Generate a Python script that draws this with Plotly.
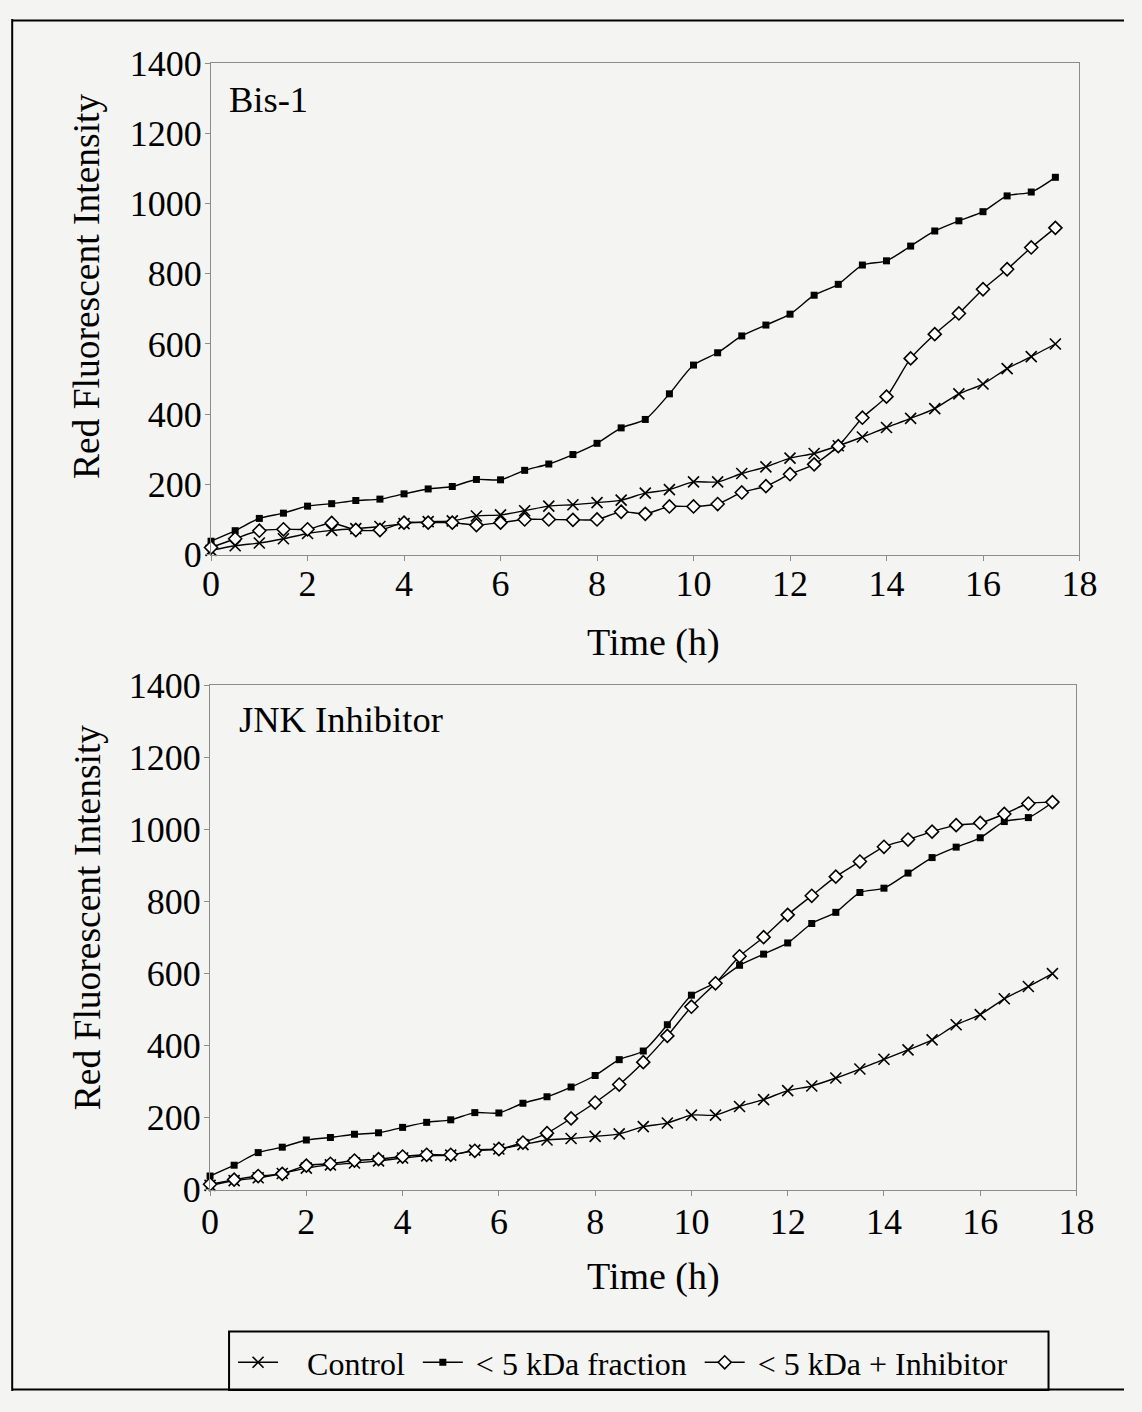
import plotly.graph_objects as go

# Sampling times (h)
time_h = [0, 0.5, 1, 1.5, 2, 2.5, 3, 3.5, 4, 4.5, 5, 5.5, 6, 6.5, 7, 7.5, 8, 8.5,
          9, 9.5, 10, 10.5, 11, 11.5, 12, 12.5, 13, 13.5, 14, 14.5, 15, 15.5, 16, 16.5, 17, 17.5]

# Red fluorescent intensity per condition
control = [12, 25, 33, 45, 60, 69, 74, 80, 88, 94, 96, 110, 113, 125, 138, 142, 148, 155,
           175, 185, 207, 207, 231, 250, 275, 288, 310, 335, 362, 388, 416, 458, 486, 530, 564, 600]
fraction_5kda = [38, 68, 103, 118, 138, 145, 154, 158, 173, 187, 194, 214, 213, 240, 258, 285, 317, 361,
                 385, 458, 540, 575, 623, 654, 685, 739, 770, 825, 837, 879, 922, 951, 977, 1022, 1033, 1075]
bis1_inhibited = [20, 45, 68, 72, 72, 90, 70, 70, 91, 91, 91, 84, 91, 100, 100, 99, 100, 122,
                  116, 137, 137, 144, 177, 195, 229, 257, 309, 390, 450, 559, 628, 687, 756, 813, 875, 931]
jnk_inhibited = [15, 28, 38, 44, 67, 72, 81, 85, 92, 97, 97, 108, 113, 131, 157, 198, 242, 292,
                 354, 427, 508, 573, 648, 701, 763, 816, 869, 911, 952, 972, 994, 1012, 1018, 1043, 1072, 1076]

series_names = ["Control", "< 5 kDa fraction", "< 5 kDa + Inhibitor"]
panel_labels = ["Bis-1", "JNK Inhibitor"]
x_ticks = [0, 2, 4, 6, 8, 10, 12, 14, 16, 18]
y_ticks = [0, 200, 400, 600, 800, 1000, 1200, 1400]

FONT = "Liberation Serif"
BG = "#f4f4f2"
AXIS_GREY = "#8c8c8c"
NB = "\u00a0"

W, H = 1142, 1412
# page placement of the figure inside the captured view
SX, OX = 0.977, 7.8
SY, OY = 0.973, 18.7


def fx(p):
    return ((p - OX) / SX) / W


def fy(p):
    return 1 - ((p - OY) / SY) / H


fig = go.Figure()

line_style = dict(color="black", width=1.4, shape="spline", smoothing=0.7)
marker_styles = [
    dict(symbol="x-thin-open", size=11, color="black", line=dict(color="black", width=1.6)),
    dict(symbol="square", size=7, color="black", line=dict(color="black", width=0)),
    dict(symbol="diamond", size=10, color="white", line=dict(color="black", width=1.6)),
]
legend_labels = [
    NB * 3 + series_names[0] + NB,
    NB + series_names[1] + NB,
    NB + series_names[2],
]

panels = [
    ("x", "y", [control, fraction_5kda, bis1_inhibited], True),
    ("x2", "y2", [control, fraction_5kda, jnk_inhibited], False),
]

for xa, ya, data, show in panels:
    for label, values, mk in zip(legend_labels, data, marker_styles):
        fig.add_trace(go.Scatter(
            x=time_h, y=values, name=label, mode="lines+markers",
            line=line_style, marker=mk, xaxis=xa, yaxis=ya,
            showlegend=show, cliponaxis=False,
        ))

axis_common = dict(
    showgrid=False, zeroline=False, showline=True, mirror=True,
    linecolor=AXIS_GREY, linewidth=1, ticks="outside", ticklen=5,
    tickcolor=AXIS_GREY, tickwidth=1,
    tickfont=dict(family=FONT, size=36, color="black"),
)

fig.update_layout(
    width=W, height=H, autosize=False,
    margin=dict(l=0, r=0, t=0, b=0),
    paper_bgcolor=BG, plot_bgcolor=BG,
    font=dict(family=FONT, color="black"),
    xaxis=dict(domain=[fx(210), fx(1079)], anchor="y", range=[0, 18],
               tickvals=x_ticks, ticklabelstandoff=-8, **axis_common),
    yaxis=dict(domain=[fy(555), fy(63)], anchor="x", range=[0, 1400],
               tickvals=y_ticks, ticklabelstandoff=-4, **axis_common),
    xaxis2=dict(domain=[fx(209), fx(1076)], anchor="y2", range=[0, 18],
                tickvals=x_ticks, ticklabelstandoff=-5, **axis_common),
    yaxis2=dict(domain=[fy(1191), fy(686)], anchor="x2", range=[0, 1400],
                tickvals=y_ticks, ticklabelstandoff=-4, **axis_common),
    legend=dict(
        orientation="h", x=fx(232), y=fy(1364), xanchor="left", yanchor="middle",
        bgcolor="rgba(0,0,0,0)", borderwidth=0,
        font=dict(family=FONT, size=32, color="black"),
        itemwidth=40,
    ),
)

annotations = [
    dict(text=panel_labels[0], x=fx(226), y=fy(99), xanchor="left", yanchor="middle",
         font=dict(family=FONT, size=36.5, color="black")),
    dict(text=panel_labels[1], x=fx(236), y=fy(720), xanchor="left", yanchor="middle",
         font=dict(family=FONT, size=36.5, color="black")),
]
for yc in (286, 918):
    annotations.append(dict(text="Red Fluorescent Intensity", x=fx(86), y=fy(yc),
                            xanchor="center", yanchor="middle", textangle=-90,
                            font=dict(family=FONT, size=37.5, color="black")))
for yc in (643, 1278):
    annotations.append(dict(text="Time (h)", x=fx(653), y=fy(yc),
                            xanchor="center", yanchor="middle",
                            font=dict(family=FONT, size=38, color="black")))
for a in annotations:
    a.update(xref="paper", yref="paper", showarrow=False)
fig.update_layout(annotations=annotations)

# legend box
fig.add_shape(type="rect", xref="paper", yref="paper",
              x0=fx(228), x1=fx(1048), y0=max(fy(1395), 0.0008), y1=fy(1333),
              line=dict(color="black", width=2), fillcolor="rgba(0,0,0,0)", layer="above")
# page frame: left, top and bottom edges
frame_line = dict(color="black", width=2)
fig.add_shape(type="line", xref="paper", yref="paper",
              x0=fx(11), x1=fx(11), y0=0, y1=1, line=frame_line, layer="above")
fig.add_shape(type="line", xref="paper", yref="paper",
              x0=fx(11), x1=1, y0=1 - 1.5 / H, y1=1 - 1.5 / H, line=frame_line, layer="above")
fig.add_shape(type="line", xref="paper", yref="paper",
              x0=fx(11), x1=1, y0=1.5 / H, y1=1.5 / H, line=frame_line, layer="above")

fig.write_html("out.html")
